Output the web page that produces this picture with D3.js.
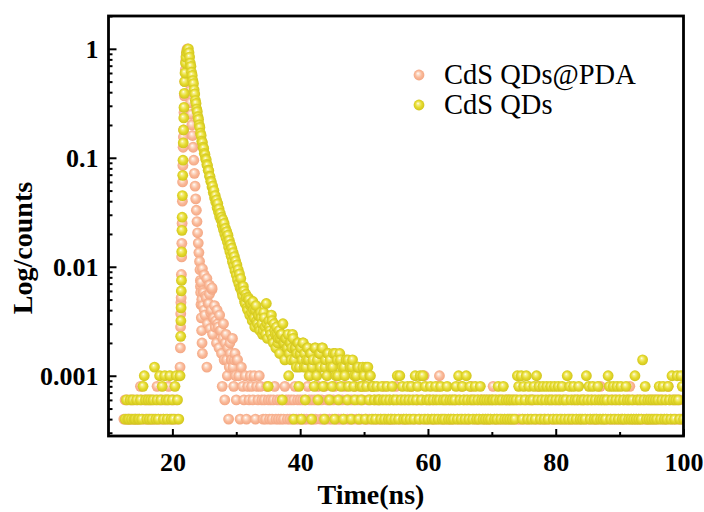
<!DOCTYPE html>
<html>
<head>
<meta charset="utf-8">
<script src="https://cdn.jsdelivr.net/npm/d3@7"></script>
<style>
  html, body { margin: 0; padding: 0; background: #fff; }
  svg { display: block; }
</style>
</head>
<body>
<svg id="chart" width="704" height="512"></svg>
<script>
// ---- data -------------------------------------------------------------
// time axis ticks (ns) and log-count ticks
const xMajor = [20, 40, 60, 80, 100];
const xMinor = [30, 50, 70, 90];
const yMajor = [1, 0.1, 0.01, 0.001];
const yMajorLabels = ['1', '0.1', '0.01', '0.001'];
const seriesNames = ['CdS QDs@PDA', 'CdS QDs'];

// baseline channels: 0.2 ns grid from 12.4 ns, one char per channel,
// base-36 count level (1 level = 0.0002), '0' = nothing on the plot
const FLOOR_T0 = 12.4, FLOOR_DT = 0.2, COUNT_UNIT = 0.0002;

const pdaFloor = [
  '2323223232' + '2324323232' + '3232234232' + '3232342323' + '2325600000',
  '0000000000' + 'xpukr6nsjw' + 'hmgkeid4f3' + 'c52a7b4837' + '5264352435',
  '4352435432' + '3243232342' + '3232324323' + '2323423232' + '3232432323',
  '2343232423' + '3232342323' + '2324323232' + '3423232342' + '2323423232',
  '3232423232' + '2324323232' + '3232342323' + '3232352323' + '3232324523',
  '2323232323' + '3232423232' + '2343232323' + '3232323234' + '2323232323',
  '3232323232' + '2323232323' + '3232423232' + '2323232323' + '3232323232',
  '2323232323' + '3232323232' + '2324323232' + '3232323232' + '2323234232',
  '3232323232' + '2323232323' + '3232324323' + '232323223'
].join('');

const qdsFloor = [
  '0232232322' + '3223245323' + '2323623253' + '4253235232' + '4532500000',
  '0000000000' + '0000000000' + '0000000000' + '0000000000' + '00wrunqkpm',
  'johkgiejfd' + 'hcf4ecgad9' + 'cb8c3a7b95' + 'a7c296a482' + 'a637958274',
  '9538694275' + '8364825738' + '4625734627' + '4356243652' + '4635243243',
  '3243234232' + '4323525342' + '3243243253' + '4253524323' + '4232432342',
  '3234232323' + '4253243253' + '2432342324' + '3232323233' + '2324323423',
  '2323232354' + '3524352432' + '3425342342' + '3423432432' + '4324323524',
  '3243234232' + '3253423423' + '2432323235' + '4234234234' + '2324323232',
  '5232327342' + '3232323234' + '2342324325' + '323532542'
].join('');

// rise, decay and scattered tail points [time ns, normalised counts]
const pdaPeak = [
  [21.25, 0.0018], [21.28, 0.0028], [21.31, 0.0037], [21.34, 0.0047], [21.37, 0.0052],
  [21.41, 0.0085], [21.45, 0.0123], [21.48, 0.0164], [21.52, 0.025], [21.56, 0.04],
  [21.60, 0.06], [21.64, 0.085], [21.68, 0.125], [21.72, 0.155], [21.76, 0.18],
  [21.82, 0.26], [21.88, 0.37], [21.95, 0.50], [22.02, 0.64], [22.10, 0.78],
  [22.18, 0.90], [22.27, 0.98], [22.35, 1.0],
  [22.45, 0.85], [22.55, 0.68], [22.65, 0.53], [22.75, 0.41], [22.85, 0.32],
  [22.95, 0.25], [23.05, 0.2], [23.15, 0.16], [23.25, 0.125], [23.35, 0.095],
  [23.45, 0.072], [23.55, 0.055], [23.65, 0.042], [23.75, 0.033], [23.85, 0.026],
  [23.95, 0.0205], [24.05, 0.0165], [24.15, 0.0135], [24.25, 0.0112], [24.32, 0.0094],
  [24.38, 0.0075], [24.43, 0.0058], [24.48, 0.0045], [24.53, 0.0034], [24.58, 0.0026],
  [24.64, 0.002], [24.7, 0.0016],
  [24.5, 0.0072], [24.7, 0.0096], [24.75, 0.0044], [24.9, 0.0058], [25.0, 0.0084],
  [25.1, 0.0036], [25.3, 0.0052], [25.4, 0.0078], [25.5, 0.0030], [25.7, 0.0046],
  [25.8, 0.0068], [25.9, 0.0027], [26.1, 0.0040], [26.2, 0.0062], [26.3, 0.0024],
  [26.5, 0.0034], [26.7, 0.0028], [26.9, 0.0020], [27.1, 0.0030], [27.3, 0.0018],
  [27.5, 0.0026], [27.7, 0.0016], [27.9, 0.0022], [28.1, 0.0014], [28.3, 0.0020],
  [28.5, 0.0014], [28.7, 0.0018], [28.9, 0.0012], [29.1, 0.0016], [29.3, 0.0014],
  [29.5, 0.0012], [29.7, 0.0014], [29.9, 0.0010], [30.1, 0.0014]
];

const qdsPeak = [
  [21.30, 0.0023], [21.33, 0.0032], [21.36, 0.0042], [21.39, 0.006], [21.42, 0.0075],
  [21.46, 0.0137], [21.50, 0.0216], [21.53, 0.0285], [21.57, 0.045], [21.62, 0.069],
  [21.66, 0.095], [21.70, 0.137], [21.74, 0.18], [21.78, 0.232], [21.82, 0.29],
  [21.87, 0.39], [21.92, 0.50], [21.98, 0.60], [22.05, 0.74], [22.12, 0.84],
  [22.22, 0.93], [22.35, 0.98],
  [22.5, 1.0], [22.6, 0.92], [22.7, 0.84], [22.8, 0.74], [22.9, 0.69], [23.0, 0.61],
  [23.1, 0.57], [23.2, 0.51], [23.3, 0.48], [23.4, 0.42], [23.5, 0.385], [23.6, 0.335],
  [23.7, 0.315], [23.8, 0.28], [23.9, 0.265], [24.0, 0.238], [24.1, 0.225], [24.2, 0.2],
  [24.3, 0.19], [24.4, 0.168], [24.5, 0.16], [24.6, 0.142], [24.7, 0.138], [24.8, 0.125],
  [24.9, 0.122], [25.0, 0.11], [25.1, 0.107], [25.2, 0.098], [25.3, 0.096], [25.4, 0.087],
  [25.5, 0.085], [25.6, 0.077], [25.7, 0.076], [25.8, 0.068], [25.9, 0.067], [26.0, 0.061],
  [26.1, 0.06], [26.2, 0.054], [26.3, 0.055], [26.4, 0.048], [26.5, 0.05], [26.6, 0.043],
  [26.7, 0.045], [26.8, 0.039], [26.9, 0.041], [27.0, 0.035], [27.1, 0.038], [27.2, 0.032],
  [27.3, 0.034], [27.4, 0.029], [27.5, 0.031], [27.6, 0.027], [27.7, 0.0285], [27.8, 0.024],
  [27.9, 0.027], [28.0, 0.022], [28.1, 0.025], [28.2, 0.020], [28.3, 0.0225], [28.4, 0.0185],
  [28.5, 0.021], [28.6, 0.017], [28.7, 0.0195], [28.8, 0.0152], [28.9, 0.0175], [29.0, 0.0138],
  [29.1, 0.016], [29.2, 0.0125], [29.3, 0.0148], [29.4, 0.0112], [29.5, 0.0135], [29.6, 0.0102],
  [29.7, 0.0124], [29.8, 0.0092], [29.9, 0.0113], [30.0, 0.0084], [30.1, 0.0104], [30.2, 0.0076],
  [30.3, 0.0094], [30.4, 0.007], [30.5, 0.0086], [30.6, 0.0064],
  [30.7, 0.0078], [30.9, 0.0058], [31.1, 0.0066], [31.3, 0.0048], [31.5, 0.0056], [31.7, 0.0042],
  [31.9, 0.0052], [32.1, 0.0036], [32.3, 0.0046], [32.5, 0.0032], [32.7, 0.004], [32.9, 0.0028],
  [33.1, 0.0044], [33.3, 0.003], [33.5, 0.0036], [33.7, 0.0026], [33.9, 0.0034], [34.1, 0.0024],
  [34.3, 0.0038], [34.5, 0.0028], [34.7, 0.0046], [34.9, 0.0022], [35.1, 0.0032], [35.3, 0.0026],
  [35.5, 0.0036], [35.7, 0.0022], [35.9, 0.003], [36.1, 0.0024], [36.3, 0.0028], [36.5, 0.002],
  [36.7, 0.0026], [36.9, 0.0022], [37.1, 0.0024], [37.3, 0.003], [37.5, 0.002], [37.7, 0.0022],
  [37.9, 0.0018], [38.1, 0.0024], [38.3, 0.0016], [38.5, 0.002], [38.7, 0.0018], [38.9, 0.0022],
  [39.1, 0.0014], [39.3, 0.0018], [39.5, 0.0016], [39.7, 0.002], [39.9, 0.0012], [40.1, 0.0018],
  [40.3, 0.0014], [40.5, 0.002], [40.7, 0.0016], [40.9, 0.0012], [41.1, 0.0018], [41.3, 0.0014],
  [41.5, 0.001], [41.7, 0.0016], [41.9, 0.0012], [42.3, 0.0018], [42.7, 0.0014], [43.1, 0.0016],
  [43.5, 0.0018], [43.9, 0.0012], [44.3, 0.0016], [44.7, 0.0014], [45.1, 0.0012], [45.5, 0.0016],
  [45.9, 0.001], [46.3, 0.0014], [46.9, 0.0012], [47.5, 0.0014], [48.1, 0.0012], [48.5, 0.001],
  [49.1, 0.0012], [49.7, 0.0008], [50.3, 0.0012], [50.9, 0.001], [51.3, 0.0008]
];

// ---- layout -----------------------------------------------------------
const L = 108.5, R = 683.5, T = 16, B = 436;
const R_DOT = 5.4;
const SERIF = '"Times New Roman", "Liberation Serif", serif';

function buildSeries(floor, peak) {
  const pts = peak.map(d => ({ t: d[0], v: d[1] }));
  for (let i = 0; i < floor.length; i++) {
    const k = parseInt(floor[i], 36);
    if (k > 0) pts.push({ t: FLOOR_T0 + i * FLOOR_DT, v: k * COUNT_UNIT });
  }
  return pts.sort((a, b) => a.t - b.t);
}

const pdaPts = buildSeries(pdaFloor, pdaPeak);
const qdsPts = buildSeries(qdsFloor, qdsPeak);

const svg = d3.select('#chart');
const x = d3.scaleLinear().domain([10, 100]).range([L, R]);
const y = d3.scaleLog().domain([2.8e-4, 2]).range([B, T]);

// sphere-like markers
const defs = svg.append('defs');
function ball(id, stops) {
  const g = defs.append('radialGradient').attr('id', id)
    .attr('cx', '0.5').attr('cy', '0.5').attr('r', '0.55').attr('fx', '0.4').attr('fy', '0.34');
  stops.forEach(s => g.append('stop').attr('offset', s[0]).attr('stop-color', s[1]));
}
ball('ball-pda', [[0, '#ffffff'], [0.2, '#fde3d3'], [0.55, '#fabb9b'], [1, '#f2a27e']]);
ball('ball-qds', [[0, '#ffffff'], [0.2, '#f6ef8c'], [0.55, '#e6dc2f'], [1, '#cdc01a']]);
defs.append('clipPath').attr('id', 'plot-clip')
  .append('rect').attr('x', L).attr('y', T).attr('width', R - L).attr('height', B - T);

const gPts = svg.append('g').attr('clip-path', 'url(#plot-clip)');
[[pdaPts, 'ball-pda'], [qdsPts, 'ball-qds']].forEach(([pts, id]) => {
  gPts.append('g').selectAll('circle').data(pts).join('circle')
    .attr('cx', d => x(d.t)).attr('cy', d => y(d.v)).attr('r', R_DOT)
    .attr('fill', `url(#${id})`);
});

// ---- axes -------------------------------------------------------------
function styleAxis(g) {
  g.select('.domain').remove();
  g.selectAll('.tick line').attr('stroke', '#000').attr('stroke-width', 2);
  g.selectAll('.tick text').attr('fill', '#000').attr('font-family', SERIF)
    .attr('font-weight', 'bold').attr('font-size', 26);
}

svg.append('g').attr('transform', `translate(0,${B})`)
  .call(d3.axisBottom(x).tickValues(xMajor).tickSize(-7).tickPadding(17).tickFormat(d3.format('d')))
  .call(styleAxis);
svg.append('g').attr('transform', `translate(0,${B})`)
  .call(d3.axisBottom(x).tickValues(xMinor).tickSize(-4).tickFormat(''))
  .call(styleAxis);

const yMinor = [];
[1e-4, 1e-3, 1e-2, 1e-1, 1].forEach(dec => {
  for (let k = 2; k <= 9; k++) {
    const v = dec * k;
    if (v > y.domain()[0] && v <= y.domain()[1]) yMinor.push(v);
  }
});
svg.append('g').attr('transform', `translate(${L},0)`)
  .call(d3.axisLeft(y).tickValues(yMajor).tickSize(-8).tickPadding(10)
    .tickFormat((d, i) => yMajorLabels[i]))
  .call(styleAxis);
svg.append('g').attr('transform', `translate(${L},0)`)
  .call(d3.axisLeft(y).tickValues(yMinor).tickSize(-4).tickFormat(''))
  .call(styleAxis);

svg.append('rect').attr('x', L).attr('y', T).attr('width', R - L).attr('height', B - T)
  .attr('fill', 'none').attr('stroke', '#000').attr('stroke-width', 2.8);

// axis titles
svg.append('text').attr('x', 371).attr('y', 504).attr('text-anchor', 'middle')
  .attr('font-family', SERIF).attr('font-weight', 'bold').attr('font-size', 28).text('Time(ns)');
svg.append('text').attr('transform', 'translate(32,248) rotate(-90)').attr('text-anchor', 'middle')
  .attr('font-family', SERIF).attr('font-weight', 'bold').attr('font-size', 28).text('Log/counts');

// legend
const legend = svg.append('g');
[['ball-pda', 75], ['ball-qds', 105]].forEach(([id, ly], i) => {
  legend.append('circle').attr('cx', 419).attr('cy', ly).attr('r', R_DOT).attr('fill', `url(#${id})`);
  legend.append('text').attr('x', 444).attr('y', ly + 9).attr('font-family', SERIF)
    .attr('font-size', 28.5).attr('fill', '#000').text(seriesNames[i]);
});
</script>
</body>
</html>
